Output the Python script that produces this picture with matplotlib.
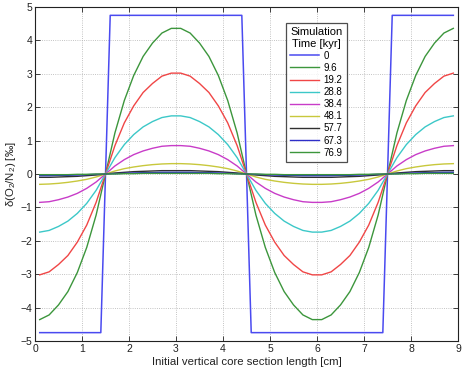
import numpy as np
import matplotlib
matplotlib.use("Agg")
import matplotlib.pyplot as plt

plt.rcParams['font.family'] = ['Liberation Sans', 'DejaVu Sans']
plt.rcParams['mathtext.default'] = 'regular'

# --- data ---------------------------------------------------------------
times = ['0', '9.6', '19.2', '28.8', '38.4', '48.1', '57.7', '67.3', '76.9']

x_square = [0.1, 1.4, 1.5, 1.6, 4.4, 4.5, 4.6, 7.4, 7.5, 7.6, 8.9]
y_square = [-4.75, -4.75, 0.0, 4.75, 4.75, 0.0, -4.75, -4.75, 0.0, 4.75, 4.75]

x_profile = [0.1, 0.3, 0.5, 0.7, 0.9, 1.1, 1.3, 1.5, 1.7, 1.9, 2.1, 2.3, 2.5, 2.7, 2.9,
             3.1, 3.3, 3.5, 3.7, 3.9, 4.1, 4.3, 4.5, 4.7, 4.9, 5.1, 5.3, 5.5, 5.7, 5.9,
             6.1, 6.3, 6.5, 6.7, 6.9, 7.1, 7.3, 7.5, 7.7, 7.9, 8.1, 8.3, 8.5, 8.7, 8.9]

y_9_6 = [-4.36, -4.22, -3.92, -3.52, -2.95, -2.20, -1.23, 0.00, 1.23, 2.20, 2.95, 3.52, 3.92, 4.22, 4.36,
         4.36, 4.22, 3.92, 3.52, 2.95, 2.20, 1.23, 0.00, -1.23, -2.20, -2.95, -3.52, -3.92, -4.22, -4.36,
         -4.36, -4.22, -3.92, -3.52, -2.95, -2.20, -1.23, 0.00, 1.23, 2.20, 2.95, 3.52, 3.92, 4.22, 4.36]
y_19_2 = [-3.02, -2.93, -2.71, -2.44, -2.04, -1.53, -0.85, 0.00, 0.85, 1.53, 2.04, 2.44, 2.71, 2.93, 3.02,
          3.02, 2.93, 2.71, 2.44, 2.04, 1.53, 0.85, 0.00, -0.85, -1.53, -2.04, -2.44, -2.71, -2.93, -3.02,
          -3.02, -2.93, -2.71, -2.44, -2.04, -1.53, -0.85, 0.00, 0.85, 1.53, 2.04, 2.44, 2.71, 2.93, 3.02]
y_28_8 = [-1.74, -1.69, -1.57, -1.41, -1.18, -0.88, -0.49, 0.00, 0.49, 0.88, 1.18, 1.41, 1.57, 1.69, 1.74,
          1.74, 1.69, 1.57, 1.41, 1.18, 0.88, 0.49, 0.00, -0.49, -0.88, -1.18, -1.41, -1.57, -1.69, -1.74,
          -1.74, -1.69, -1.57, -1.41, -1.18, -0.88, -0.49, 0.00, 0.49, 0.88, 1.18, 1.41, 1.57, 1.69, 1.74]
y_38_4 = [-0.85, -0.83, -0.77, -0.69, -0.58, -0.43, -0.24, 0.00, 0.24, 0.43, 0.58, 0.69, 0.77, 0.83, 0.85,
          0.85, 0.83, 0.77, 0.69, 0.58, 0.43, 0.24, 0.00, -0.24, -0.43, -0.58, -0.69, -0.77, -0.83, -0.85,
          -0.85, -0.83, -0.77, -0.69, -0.58, -0.43, -0.24, 0.00, 0.24, 0.43, 0.58, 0.69, 0.77, 0.83, 0.85]
y_48_1 = [-0.31, -0.30, -0.28, -0.25, -0.21, -0.16, -0.09, 0.00, 0.09, 0.16, 0.21, 0.25, 0.28, 0.30, 0.31,
          0.31, 0.30, 0.28, 0.25, 0.21, 0.16, 0.09, 0.00, -0.09, -0.16, -0.21, -0.25, -0.28, -0.30, -0.31,
          -0.31, -0.30, -0.28, -0.25, -0.21, -0.16, -0.09, 0.00, 0.09, 0.16, 0.21, 0.25, 0.28, 0.30, 0.31]
y_57_7 = [-0.10, -0.10, -0.09, -0.08, -0.07, -0.05, -0.03, 0.00, 0.03, 0.05, 0.07, 0.08, 0.09, 0.10, 0.10,
          0.10, 0.10, 0.09, 0.08, 0.07, 0.05, 0.03, 0.00, -0.03, -0.05, -0.07, -0.08, -0.09, -0.10, -0.10,
          -0.10, -0.10, -0.09, -0.08, -0.07, -0.05, -0.03, 0.00, 0.03, 0.05, 0.07, 0.08, 0.09, 0.10, 0.10]
y_67_3 = [-0.05, -0.05, -0.04, -0.04, -0.03, -0.02, -0.01, 0.00, 0.01, 0.02, 0.03, 0.04, 0.04, 0.05, 0.05,
          0.05, 0.05, 0.04, 0.04, 0.03, 0.02, 0.01, 0.00, -0.01, -0.02, -0.03, -0.04, -0.04, -0.05, -0.05,
          -0.05, -0.05, -0.04, -0.04, -0.03, -0.02, -0.01, 0.00, 0.01, 0.02, 0.03, 0.04, 0.04, 0.05, 0.05]
y_76_9 = [-0.02, -0.02, -0.02, -0.02, -0.01, -0.01, 0.00, 0.00, 0.00, 0.01, 0.01, 0.02, 0.02, 0.02, 0.02,
          0.02, 0.02, 0.02, 0.02, 0.01, 0.01, 0.00, 0.00, 0.00, -0.01, -0.01, -0.02, -0.02, -0.02, -0.02,
          -0.02, -0.02, -0.02, -0.02, -0.01, -0.01, 0.00, 0.00, 0.00, 0.01, 0.01, 0.02, 0.02, 0.02, 0.02]

profiles = [y_9_6, y_19_2, y_28_8, y_38_4, y_48_1, y_57_7, y_67_3, y_76_9]

colors = ['#4a4af0', '#3c963c', '#f04646', '#3cc8c8', '#c83cc8', '#c8c83c', '#303030', '#2e2ec8', '#3c963c']

# --- figure -------------------------------------------------------------
fig = plt.figure(figsize=(4.65, 3.68), dpi=100)
ax = fig.add_axes([0.0753, 0.0734, 0.9097, 0.9076])

ax.plot(x_square, y_square, color=colors[0], lw=1.1, label=times[0])
for i, yv in enumerate(profiles):
    ax.plot(x_profile, yv, color=colors[i + 1], lw=1.0, label=times[i + 1])

ax.set_xlim(0, 9)
ax.set_ylim(-5, 5)
ax.set_xticks(range(0, 10))
ax.set_yticks(range(-5, 6))
ax.tick_params(direction='in', length=3.5, width=0.6, labelsize=7.5,
               top=True, right=True, pad=2, colors='#222222')
for s in ax.spines.values():
    s.set_linewidth(0.8)
    s.set_color('#222222')
ax.grid(True, linestyle=':', color='#b0b0b0', linewidth=0.6)

ax.set_xlabel('Initial vertical core section length [cm]', fontsize=8.2, labelpad=2, color='#222222')
ax.set_ylabel(r'δ(O$_2$/N$_2$) [‰]', fontsize=8.2, labelpad=2, color='#222222')

leg = ax.legend(title='Simulation\nTime [kyr]', loc='upper left',
                bbox_to_anchor=(0.593, 0.952), fontsize=7, title_fontsize=8,
                frameon=True, fancybox=False, edgecolor='#222222',
                handlelength=3.0, handletextpad=0.5, labelspacing=0.22,
                borderpad=0.4, borderaxespad=0)
leg.get_frame().set_linewidth(0.9)
leg.get_title().set_multialignment('center')

fig.savefig('out.png', dpi=100)
